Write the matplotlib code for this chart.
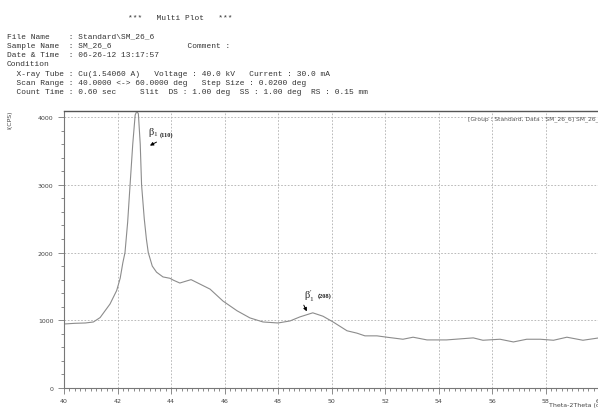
import matplotlib
matplotlib.use("Agg")
from matplotlib import pyplot as plt
from matplotlib.ticker import MultipleLocator

# 2theta (deg) / intensity (CPS)
two_theta = [40.0, 40.4, 40.8, 41.1, 41.35, 41.72, 41.97, 42.1, 42.2, 42.28, 42.38,
             42.47, 42.57, 42.66, 42.72, 42.78, 42.85, 42.9, 43.0, 43.08, 43.15,
             43.3, 43.46, 43.7, 43.96, 44.1, 44.33, 44.58, 44.75, 45.08, 45.46,
             45.94, 46.47, 46.95, 47.44, 48.0, 48.45, 48.82, 49.3, 49.68, 50.06,
             50.3, 50.58, 50.95, 51.25, 51.7, 52.07, 52.67, 53.05, 53.57, 54.3,
             54.8, 55.3, 55.66, 56.3, 56.8, 57.3, 57.8, 58.3, 58.8, 59.4, 60.0]
intensity = [945, 955, 960, 975, 1040, 1240, 1440, 1620, 1850, 2000, 2450,
             3000, 3600, 4030, 4085, 4050, 3600, 3000, 2500, 2200, 2000,
             1800, 1710, 1640, 1620, 1590, 1550, 1580, 1600, 1535, 1460,
             1285, 1140, 1035, 975, 960, 990, 1050, 1110, 1060, 975,
             915, 845, 810, 770, 770, 750, 720, 750, 710, 710,
             725, 740, 705, 720, 680, 720, 720, 705, 750, 705, 740]

header = [
    "File Name    : Standard\\SM_26_6",
    "Sample Name  : SM_26_6                Comment :",
    "Date & Time  : 06-26-12 13:17:57",
    "Condition",
    "  X-ray Tube : Cu(1.54060 A)   Voltage : 40.0 kV   Current : 30.0 mA",
    "  Scan Range : 40.0000 <-> 60.0000 deg   Step Size : 0.0200 deg",
    "  Count Time : 0.60 sec     Slit  DS : 1.00 deg  SS : 1.00 deg  RS : 0.15 mm",
]

fig = plt.figure(figsize=(5.98, 4.10), dpi=100)
fig.patch.set_facecolor("white")

# header block (monospace, like the instrument printout)
fig.text(128 / 598, 1 - 18 / 410, "***   Multi Plot   ***", family="Liberation Mono",
         fontsize=5.7, color="#333333", va="center")
for i, line in enumerate(header):
    fig.text(7 / 598, 1 - (37 + i * 9.3) / 410, line, family="Liberation Mono",
             fontsize=5.7, color="#333333", va="center")

ax = fig.add_axes([64 / 598, 1 - 389 / 410, 535 / 598, 277 / 410])
ax.plot(two_theta, intensity, color="#8c8c8c", lw=0.8)
ax.set_xlim(40, 60)
ax.set_ylim(0, 4090)

ax.xaxis.set_major_locator(MultipleLocator(2))
ax.xaxis.set_minor_locator(MultipleLocator(0.2))
ax.yaxis.set_major_locator(MultipleLocator(1000))
ax.yaxis.set_minor_locator(MultipleLocator(200))
ax.grid(True, which="major", color="#b0b0b0", linestyle=(0, (2, 2)), lw=0.6)
ax.tick_params(which="both", direction="out", colors="#777777", labelcolor="#444444",
               labelsize=4.5, width=0.6)
ax.tick_params(which="major", length=4)
ax.tick_params(which="minor", length=2.5)
for side in ["left", "bottom"]:
    ax.spines[side].set_color("#777777")
    ax.spines[side].set_linewidth(0.8)
ax.spines["top"].set_color("#555555")
ax.spines["top"].set_linewidth(1.0)
ax.spines["right"].set_visible(False)

fig.text(10 / 598, 1 - 120 / 410, "I(CPS)", rotation=90, fontsize=4.5,
         color="#444444", ha="center", va="center")
fig.text(549 / 598, 1 - 406 / 410, "Theta-2Theta (deg)", fontsize=4.5,
         color="#444444", ha="left", va="center")
ax.text((468 - 64) / 535, 0.985,
        "[Group : Standard, Data : SM_26_6] SM_26_6.", transform=ax.transAxes,
        fontsize=4.3, color="#555555", ha="left", va="top", clip_on=False)

# peak labels
ax.annotate("", xy=(43.12, 3560), xytext=(43.55, 3650),
            arrowprops=dict(arrowstyle="-|>", color="black", lw=0.7, mutation_scale=5))
ax.text(43.14, 3780, r"$\mathregular{\beta_1}$", family="Liberation Serif", fontsize=7.5,
        color="#222222", va="center")
ax.text(43.58, 3750, "(110)", family="Liberation Serif", fontsize=4.6,
        fontweight="bold", color="#222222", va="center")
ax.annotate("", xy=(49.12, 1095), xytext=(48.92, 1260),
            arrowprops=dict(arrowstyle="-|>", color="black", lw=0.7, mutation_scale=5))
ax.text(48.98, 1360, r"$\mathregular{\beta_1'}$", family="Liberation Serif", fontsize=7.5,
        color="#222222", va="center")
ax.text(49.5, 1370, "(208)", family="Liberation Serif", fontsize=4.6,
        fontweight="bold", color="#222222", va="center")

fig.savefig("out.png", dpi=100)
